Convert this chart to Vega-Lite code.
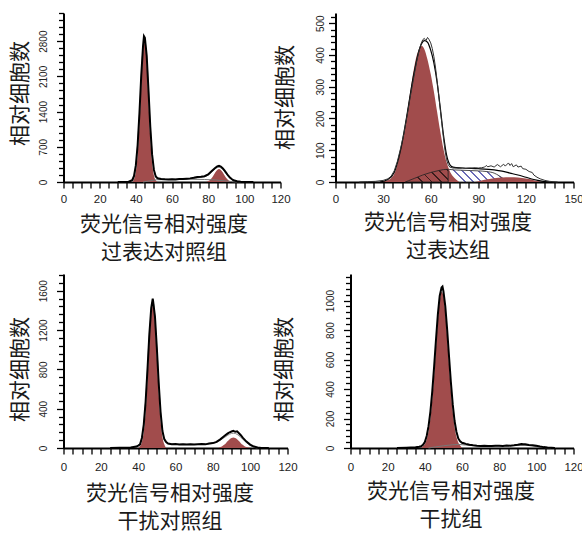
{
  "$schema": "https://vega.github.io/schema/vega-lite/v6.json",
  "padding": {"left": 9.5, "top": 12, "right": 0, "bottom": 8},
  "background": "white",
  "config": {
    "view": {"stroke": null},
    "axis": {
      "grid": false,
      "domainColor": "#000",
      "domainWidth": 2,
      "tickColor": "#000",
      "tickWidth": 1.3,
      "tickSize": 5,
      "labelFont": "Liberation Sans",
      "labelColor": "#222",
      "labelOverlap": false,
      "labelFlush": false,
      "format": "d",
      "titleFont": "Noto Sans CJK SC",
      "titleFontSize": 21,
      "titleFontWeight": "normal",
      "titleColor": "#1a1a1a"
    },
    "axisY": {"labelAngle": -90, "labelAlign": "center", "labelBaseline": "middle", "labelFontSize": 10, "titleAngle": 270, "titleBaseline": "middle", "titleAlign": "center"},
    "axisX": {"labelFontSize": 11.5, "tickSize": 6, "titleBaseline": "top", "titleAlign": "center"}
  },
  "datasets": {
    "p1": [
      {"s": "G1", "x": 38, "y": 0}, {"s": "G1", "x": 39, "y": 61}, {"s": "G1", "x": 40, "y": 204}, {"s": "G1", "x": 41, "y": 541}, {"s": "G1", "x": 42, "y": 1143}, {"s": "G1", "x": 43, "y": 1926}, {"s": "G1", "x": 44, "y": 2585}, {"s": "G1", "x": 45, "y": 2767}, {"s": "G1", "x": 46, "y": 2361}, {"s": "G1", "x": 47, "y": 1606}, {"s": "G1", "x": 48, "y": 870}, {"s": "G1", "x": 49, "y": 376}, {"s": "G1", "x": 50, "y": 130}, {"s": "G1", "x": 51, "y": 36}, {"s": "G1", "x": 52, "y": 0},
      {"s": "G2", "x": 79, "y": 0}, {"s": "G2", "x": 80, "y": 18}, {"s": "G2", "x": 81, "y": 41}, {"s": "G2", "x": 82, "y": 80}, {"s": "G2", "x": 83, "y": 133}, {"s": "G2", "x": 84, "y": 193}, {"s": "G2", "x": 85, "y": 241}, {"s": "G2", "x": 86, "y": 260}, {"s": "G2", "x": 87, "y": 241}, {"s": "G2", "x": 88, "y": 193}, {"s": "G2", "x": 89, "y": 133}, {"s": "G2", "x": 90, "y": 80}, {"s": "G2", "x": 91, "y": 41}, {"s": "G2", "x": 92, "y": 18}, {"s": "G2", "x": 93, "y": 7}, {"s": "G2", "x": 94, "y": 0},
      {"s": "S", "x": 44, "y": 0}, {"s": "S", "x": 48, "y": 25}, {"s": "S", "x": 52, "y": 45}, {"s": "S", "x": 60, "y": 50}, {"s": "S", "x": 70, "y": 55}, {"s": "S", "x": 78, "y": 50}, {"s": "S", "x": 84, "y": 40}, {"s": "S", "x": 90, "y": 20}, {"s": "S", "x": 94, "y": 5}, {"s": "S", "x": 96, "y": 0},
      {"s": "fit", "x": 38, "y": 0}, {"s": "fit", "x": 40, "y": 300}, {"s": "fit", "x": 42, "y": 1330}, {"s": "fit", "x": 44, "y": 2650}, {"s": "fit", "x": 45, "y": 2800}, {"s": "fit", "x": 46, "y": 2480}, {"s": "fit", "x": 48, "y": 1080}, {"s": "fit", "x": 50, "y": 250}, {"s": "fit", "x": 52, "y": 85}, {"s": "fit", "x": 54, "y": 62}, {"s": "fit", "x": 58, "y": 55}, {"s": "fit", "x": 64, "y": 58}, {"s": "fit", "x": 70, "y": 68}, {"s": "fit", "x": 76, "y": 92}, {"s": "fit", "x": 80, "y": 135}, {"s": "fit", "x": 82, "y": 200}, {"s": "fit", "x": 84, "y": 268}, {"s": "fit", "x": 86, "y": 292}, {"s": "fit", "x": 88, "y": 250}, {"s": "fit", "x": 90, "y": 165}, {"s": "fit", "x": 92, "y": 80}, {"s": "fit", "x": 94, "y": 30}, {"s": "fit", "x": 96, "y": 8}, {"s": "fit", "x": 98, "y": 0},
      {"s": "out", "x": 30, "y": 0}, {"s": "out", "x": 36, "y": 5}, {"s": "out", "x": 38, "y": 37}, {"s": "out", "x": 39, "y": 120}, {"s": "out", "x": 40, "y": 330}, {"s": "out", "x": 41, "y": 735}, {"s": "out", "x": 42, "y": 1373}, {"s": "out", "x": 43, "y": 2120}, {"s": "out", "x": 44, "y": 2711}, {"s": "out", "x": 44.5, "y": 2900}, {"s": "out", "x": 45, "y": 2869}, {"s": "out", "x": 46, "y": 2514}, {"s": "out", "x": 47, "y": 1823}, {"s": "out", "x": 48, "y": 1094}, {"s": "out", "x": 49, "y": 544}, {"s": "out", "x": 50, "y": 240}, {"s": "out", "x": 51, "y": 110}, {"s": "out", "x": 52, "y": 75}, {"s": "out", "x": 54, "y": 60}, {"s": "out", "x": 56, "y": 55}, {"s": "out", "x": 58, "y": 52}, {"s": "out", "x": 60, "y": 55}, {"s": "out", "x": 62, "y": 52}, {"s": "out", "x": 64, "y": 58}, {"s": "out", "x": 66, "y": 60}, {"s": "out", "x": 68, "y": 66}, {"s": "out", "x": 70, "y": 72}, {"s": "out", "x": 72, "y": 85}, {"s": "out", "x": 74, "y": 100}, {"s": "out", "x": 76, "y": 105}, {"s": "out", "x": 78, "y": 115}, {"s": "out", "x": 80, "y": 150}, {"s": "out", "x": 82, "y": 220}, {"s": "out", "x": 84, "y": 285}, {"s": "out", "x": 85, "y": 310}, {"s": "out", "x": 86, "y": 320}, {"s": "out", "x": 87, "y": 308}, {"s": "out", "x": 88, "y": 275}, {"s": "out", "x": 89, "y": 230}, {"s": "out", "x": 90, "y": 180}, {"s": "out", "x": 91, "y": 130}, {"s": "out", "x": 92, "y": 90}, {"s": "out", "x": 93, "y": 60}, {"s": "out", "x": 94, "y": 35}, {"s": "out", "x": 96, "y": 15}, {"s": "out", "x": 98, "y": 5}, {"s": "out", "x": 100, "y": 0}, {"s": "out", "x": 105, "y": 0}
    ],
    "p2": [
      {"s": "G1", "x": 28, "y": 0}, {"s": "G1", "x": 32, "y": 4}, {"s": "G1", "x": 35, "y": 12}, {"s": "G1", "x": 37, "y": 25}, {"s": "G1", "x": 39, "y": 55}, {"s": "G1", "x": 41, "y": 100}, {"s": "G1", "x": 43, "y": 150}, {"s": "G1", "x": 45, "y": 215}, {"s": "G1", "x": 47, "y": 280}, {"s": "G1", "x": 49, "y": 345}, {"s": "G1", "x": 51, "y": 395}, {"s": "G1", "x": 53, "y": 422}, {"s": "G1", "x": 54.5, "y": 428}, {"s": "G1", "x": 56, "y": 418}, {"s": "G1", "x": 58, "y": 385}, {"s": "G1", "x": 60, "y": 340}, {"s": "G1", "x": 62, "y": 285}, {"s": "G1", "x": 64, "y": 222}, {"s": "G1", "x": 66, "y": 160}, {"s": "G1", "x": 68, "y": 105}, {"s": "G1", "x": 70, "y": 62}, {"s": "G1", "x": 72, "y": 35}, {"s": "G1", "x": 74, "y": 18}, {"s": "G1", "x": 76, "y": 8}, {"s": "G1", "x": 78, "y": 0},
      {"s": "SL", "x": 44, "y": 0}, {"s": "SL", "x": 46, "y": 4}, {"s": "SL", "x": 50, "y": 12}, {"s": "SL", "x": 55, "y": 22}, {"s": "SL", "x": 60, "y": 30}, {"s": "SL", "x": 65, "y": 36}, {"s": "SL", "x": 68, "y": 39}, {"s": "SL", "x": 71, "y": 40},
      {"s": "SR", "x": 71, "y": 40}, {"s": "SR", "x": 75, "y": 38}, {"s": "SR", "x": 80, "y": 37}, {"s": "SR", "x": 85, "y": 36}, {"s": "SR", "x": 90, "y": 35}, {"s": "SR", "x": 95, "y": 33}, {"s": "SR", "x": 100, "y": 28}, {"s": "SR", "x": 103, "y": 20}, {"s": "SR", "x": 106, "y": 10}, {"s": "SR", "x": 108, "y": 3}, {"s": "SR", "x": 110, "y": 0},
      {"s": "G2", "x": 88, "y": 0}, {"s": "G2", "x": 92, "y": 5}, {"s": "G2", "x": 96, "y": 9}, {"s": "G2", "x": 100, "y": 12}, {"s": "G2", "x": 105, "y": 14}, {"s": "G2", "x": 110, "y": 15}, {"s": "G2", "x": 115, "y": 14}, {"s": "G2", "x": 120, "y": 11}, {"s": "G2", "x": 124, "y": 7}, {"s": "G2", "x": 127, "y": 3}, {"s": "G2", "x": 130, "y": 0},
      {"s": "fit", "x": 28, "y": 0}, {"s": "fit", "x": 33, "y": 8}, {"s": "fit", "x": 37, "y": 30}, {"s": "fit", "x": 41, "y": 100}, {"s": "fit", "x": 45, "y": 210}, {"s": "fit", "x": 49, "y": 330}, {"s": "fit", "x": 53, "y": 420}, {"s": "fit", "x": 56, "y": 445}, {"s": "fit", "x": 58, "y": 440}, {"s": "fit", "x": 60, "y": 415}, {"s": "fit", "x": 62, "y": 375}, {"s": "fit", "x": 64, "y": 315}, {"s": "fit", "x": 66, "y": 235}, {"s": "fit", "x": 68, "y": 150}, {"s": "fit", "x": 70, "y": 85}, {"s": "fit", "x": 72, "y": 55}, {"s": "fit", "x": 74, "y": 47}, {"s": "fit", "x": 80, "y": 44}, {"s": "fit", "x": 90, "y": 42}, {"s": "fit", "x": 100, "y": 38}, {"s": "fit", "x": 105, "y": 34}, {"s": "fit", "x": 110, "y": 28}, {"s": "fit", "x": 115, "y": 22}, {"s": "fit", "x": 120, "y": 15}, {"s": "fit", "x": 125, "y": 8}, {"s": "fit", "x": 130, "y": 3}, {"s": "fit", "x": 135, "y": 0},
      {"s": "out", "x": 15, "y": 0}, {"s": "out", "x": 20, "y": 1}, {"s": "out", "x": 25, "y": 2}, {"s": "out", "x": 30, "y": 5}, {"s": "out", "x": 33, "y": 10}, {"s": "out", "x": 35, "y": 18}, {"s": "out", "x": 37, "y": 35}, {"s": "out", "x": 39, "y": 65}, {"s": "out", "x": 41, "y": 105}, {"s": "out", "x": 43, "y": 150}, {"s": "out", "x": 44, "y": 178}, {"s": "out", "x": 45, "y": 205}, {"s": "out", "x": 47, "y": 265}, {"s": "out", "x": 49, "y": 320}, {"s": "out", "x": 51, "y": 375}, {"s": "out", "x": 52, "y": 398}, {"s": "out", "x": 53, "y": 420}, {"s": "out", "x": 54, "y": 436}, {"s": "out", "x": 55, "y": 448}, {"s": "out", "x": 56, "y": 452}, {"s": "out", "x": 57, "y": 445}, {"s": "out", "x": 58, "y": 455}, {"s": "out", "x": 59, "y": 448}, {"s": "out", "x": 60, "y": 438}, {"s": "out", "x": 61, "y": 420}, {"s": "out", "x": 62, "y": 395}, {"s": "out", "x": 63, "y": 362}, {"s": "out", "x": 64, "y": 320}, {"s": "out", "x": 65, "y": 275}, {"s": "out", "x": 66, "y": 230}, {"s": "out", "x": 67, "y": 185}, {"s": "out", "x": 68, "y": 140}, {"s": "out", "x": 69, "y": 100}, {"s": "out", "x": 70, "y": 70}, {"s": "out", "x": 71, "y": 55}, {"s": "out", "x": 72, "y": 47}, {"s": "out", "x": 74, "y": 44}, {"s": "out", "x": 76, "y": 44}, {"s": "out", "x": 78, "y": 43}, {"s": "out", "x": 80, "y": 44}, {"s": "out", "x": 82, "y": 43}, {"s": "out", "x": 84, "y": 44}, {"s": "out", "x": 86, "y": 44}, {"s": "out", "x": 88, "y": 45}, {"s": "out", "x": 90, "y": 44}, {"s": "out", "x": 92, "y": 45}, {"s": "out", "x": 94, "y": 47}, {"s": "out", "x": 95, "y": 52}, {"s": "out", "x": 96, "y": 48}, {"s": "out", "x": 98, "y": 51}, {"s": "out", "x": 100, "y": 47}, {"s": "out", "x": 102, "y": 55}, {"s": "out", "x": 104, "y": 48}, {"s": "out", "x": 106, "y": 56}, {"s": "out", "x": 107, "y": 50}, {"s": "out", "x": 109, "y": 60}, {"s": "out", "x": 110, "y": 52}, {"s": "out", "x": 111, "y": 58}, {"s": "out", "x": 112, "y": 48}, {"s": "out", "x": 114, "y": 54}, {"s": "out", "x": 115, "y": 47}, {"s": "out", "x": 117, "y": 50}, {"s": "out", "x": 118, "y": 42}, {"s": "out", "x": 120, "y": 40}, {"s": "out", "x": 122, "y": 33}, {"s": "out", "x": 124, "y": 30}, {"s": "out", "x": 125, "y": 22}, {"s": "out", "x": 127, "y": 15}, {"s": "out", "x": 129, "y": 10}, {"s": "out", "x": 132, "y": 5}, {"s": "out", "x": 135, "y": 2}, {"s": "out", "x": 140, "y": 0}
    ],
    "p3": [
      {"s": "G1", "x": 40, "y": 0}, {"s": "G1", "x": 41, "y": 18}, {"s": "G1", "x": 42, "y": 61}, {"s": "G1", "x": 43, "y": 165}, {"s": "G1", "x": 44, "y": 373}, {"s": "G1", "x": 45, "y": 696}, {"s": "G1", "x": 46, "y": 1075}, {"s": "G1", "x": 47, "y": 1374}, {"s": "G1", "x": 48, "y": 1454}, {"s": "G1", "x": 49, "y": 1274}, {"s": "G1", "x": 50, "y": 924}, {"s": "G1", "x": 51, "y": 555}, {"s": "G1", "x": 52, "y": 276}, {"s": "G1", "x": 53, "y": 113}, {"s": "G1", "x": 54, "y": 39}, {"s": "G1", "x": 55, "y": 0},
      {"s": "G2", "x": 83, "y": 0}, {"s": "G2", "x": 84, "y": 10}, {"s": "G2", "x": 85, "y": 19}, {"s": "G2", "x": 86, "y": 32}, {"s": "G2", "x": 87, "y": 49}, {"s": "G2", "x": 88, "y": 70}, {"s": "G2", "x": 89, "y": 89}, {"s": "G2", "x": 90, "y": 103}, {"s": "G2", "x": 91, "y": 108}, {"s": "G2", "x": 92, "y": 103}, {"s": "G2", "x": 93, "y": 89}, {"s": "G2", "x": 94, "y": 70}, {"s": "G2", "x": 95, "y": 49}, {"s": "G2", "x": 96, "y": 32}, {"s": "G2", "x": 97, "y": 19}, {"s": "G2", "x": 98, "y": 10}, {"s": "G2", "x": 99, "y": 5}, {"s": "G2", "x": 100, "y": 0},
      {"s": "fit", "x": 40, "y": 0}, {"s": "fit", "x": 42, "y": 100}, {"s": "fit", "x": 44, "y": 470}, {"s": "fit", "x": 46, "y": 1150}, {"s": "fit", "x": 48, "y": 1480}, {"s": "fit", "x": 50, "y": 1010}, {"s": "fit", "x": 52, "y": 360}, {"s": "fit", "x": 54, "y": 85}, {"s": "fit", "x": 56, "y": 45}, {"s": "fit", "x": 60, "y": 38}, {"s": "fit", "x": 70, "y": 37}, {"s": "fit", "x": 78, "y": 42}, {"s": "fit", "x": 82, "y": 58}, {"s": "fit", "x": 84, "y": 80}, {"s": "fit", "x": 86, "y": 105}, {"s": "fit", "x": 88, "y": 130}, {"s": "fit", "x": 90, "y": 148}, {"s": "fit", "x": 91, "y": 150}, {"s": "fit", "x": 92, "y": 148}, {"s": "fit", "x": 94, "y": 125}, {"s": "fit", "x": 96, "y": 90}, {"s": "fit", "x": 98, "y": 55}, {"s": "fit", "x": 100, "y": 25}, {"s": "fit", "x": 102, "y": 8}, {"s": "fit", "x": 104, "y": 0},
      {"s": "out", "x": 25, "y": 0}, {"s": "out", "x": 30, "y": 2}, {"s": "out", "x": 36, "y": 5}, {"s": "out", "x": 39, "y": 15}, {"s": "out", "x": 40, "y": 25}, {"s": "out", "x": 41, "y": 37}, {"s": "out", "x": 42, "y": 102}, {"s": "out", "x": 43, "y": 238}, {"s": "out", "x": 44, "y": 473}, {"s": "out", "x": 45, "y": 801}, {"s": "out", "x": 46, "y": 1158}, {"s": "out", "x": 47, "y": 1425}, {"s": "out", "x": 47.8, "y": 1520}, {"s": "out", "x": 48, "y": 1495}, {"s": "out", "x": 49, "y": 1337}, {"s": "out", "x": 50, "y": 1018}, {"s": "out", "x": 51, "y": 661}, {"s": "out", "x": 52, "y": 366}, {"s": "out", "x": 53, "y": 173}, {"s": "out", "x": 54, "y": 90}, {"s": "out", "x": 55, "y": 60}, {"s": "out", "x": 56, "y": 45}, {"s": "out", "x": 58, "y": 38}, {"s": "out", "x": 60, "y": 40}, {"s": "out", "x": 62, "y": 36}, {"s": "out", "x": 64, "y": 38}, {"s": "out", "x": 66, "y": 35}, {"s": "out", "x": 68, "y": 37}, {"s": "out", "x": 70, "y": 36}, {"s": "out", "x": 72, "y": 38}, {"s": "out", "x": 74, "y": 40}, {"s": "out", "x": 76, "y": 37}, {"s": "out", "x": 78, "y": 45}, {"s": "out", "x": 80, "y": 50}, {"s": "out", "x": 82, "y": 62}, {"s": "out", "x": 84, "y": 88}, {"s": "out", "x": 86, "y": 120}, {"s": "out", "x": 88, "y": 148}, {"s": "out", "x": 89, "y": 160}, {"s": "out", "x": 90, "y": 168}, {"s": "out", "x": 91, "y": 175}, {"s": "out", "x": 92, "y": 165}, {"s": "out", "x": 93, "y": 170}, {"s": "out", "x": 94, "y": 150}, {"s": "out", "x": 95, "y": 130}, {"s": "out", "x": 96, "y": 105}, {"s": "out", "x": 97, "y": 85}, {"s": "out", "x": 98, "y": 65}, {"s": "out", "x": 100, "y": 35}, {"s": "out", "x": 102, "y": 15}, {"s": "out", "x": 104, "y": 6}, {"s": "out", "x": 106, "y": 0}, {"s": "out", "x": 110, "y": 0}
    ],
    "p4": [
      {"s": "G1", "x": 38, "y": 0}, {"s": "G1", "x": 39, "y": 12}, {"s": "G1", "x": 40, "y": 27}, {"s": "G1", "x": 41, "y": 58}, {"s": "G1", "x": 42, "y": 113}, {"s": "G1", "x": 43, "y": 201}, {"s": "G1", "x": 44, "y": 329}, {"s": "G1", "x": 45, "y": 494}, {"s": "G1", "x": 46, "y": 681}, {"s": "G1", "x": 47, "y": 860}, {"s": "G1", "x": 48, "y": 996}, {"s": "G1", "x": 49, "y": 1060}, {"s": "G1", "x": 50, "y": 1031}, {"s": "G1", "x": 51, "y": 921}, {"s": "G1", "x": 52, "y": 755}, {"s": "G1", "x": 53, "y": 568}, {"s": "G1", "x": 54, "y": 391}, {"s": "G1", "x": 55, "y": 247}, {"s": "G1", "x": 56, "y": 143}, {"s": "G1", "x": 57, "y": 76}, {"s": "G1", "x": 58, "y": 37}, {"s": "G1", "x": 59, "y": 17}, {"s": "G1", "x": 60, "y": 0},
      {"s": "S", "x": 42, "y": 0}, {"s": "S", "x": 46, "y": 8}, {"s": "S", "x": 50, "y": 15}, {"s": "S", "x": 55, "y": 22}, {"s": "S", "x": 58, "y": 24}, {"s": "S", "x": 62, "y": 20}, {"s": "S", "x": 70, "y": 14}, {"s": "S", "x": 80, "y": 14}, {"s": "S", "x": 90, "y": 18}, {"s": "S", "x": 95, "y": 18}, {"s": "S", "x": 100, "y": 10}, {"s": "S", "x": 105, "y": 2}, {"s": "S", "x": 108, "y": 0},
      {"s": "out", "x": 25, "y": 0}, {"s": "out", "x": 30, "y": 2}, {"s": "out", "x": 35, "y": 5}, {"s": "out", "x": 37, "y": 8}, {"s": "out", "x": 38, "y": 12}, {"s": "out", "x": 39, "y": 22}, {"s": "out", "x": 40, "y": 41}, {"s": "out", "x": 41, "y": 81}, {"s": "out", "x": 42, "y": 148}, {"s": "out", "x": 43, "y": 247}, {"s": "out", "x": 44, "y": 384}, {"s": "out", "x": 45, "y": 552}, {"s": "out", "x": 46, "y": 734}, {"s": "out", "x": 47, "y": 904}, {"s": "out", "x": 48, "y": 1031}, {"s": "out", "x": 49, "y": 1088}, {"s": "out", "x": 49.5, "y": 1095}, {"s": "out", "x": 50, "y": 1063}, {"s": "out", "x": 51, "y": 962}, {"s": "out", "x": 52, "y": 805}, {"s": "out", "x": 53, "y": 624}, {"s": "out", "x": 54, "y": 448}, {"s": "out", "x": 55, "y": 297}, {"s": "out", "x": 56, "y": 183}, {"s": "out", "x": 57, "y": 110}, {"s": "out", "x": 58, "y": 65}, {"s": "out", "x": 59, "y": 45}, {"s": "out", "x": 60, "y": 35}, {"s": "out", "x": 61, "y": 32}, {"s": "out", "x": 62, "y": 28}, {"s": "out", "x": 63, "y": 25}, {"s": "out", "x": 64, "y": 22}, {"s": "out", "x": 66, "y": 18}, {"s": "out", "x": 68, "y": 15}, {"s": "out", "x": 70, "y": 14}, {"s": "out", "x": 72, "y": 16}, {"s": "out", "x": 74, "y": 14}, {"s": "out", "x": 76, "y": 13}, {"s": "out", "x": 78, "y": 15}, {"s": "out", "x": 80, "y": 16}, {"s": "out", "x": 82, "y": 14}, {"s": "out", "x": 84, "y": 17}, {"s": "out", "x": 86, "y": 16}, {"s": "out", "x": 88, "y": 18}, {"s": "out", "x": 90, "y": 22}, {"s": "out", "x": 92, "y": 27}, {"s": "out", "x": 93, "y": 25}, {"s": "out", "x": 94, "y": 26}, {"s": "out", "x": 96, "y": 20}, {"s": "out", "x": 98, "y": 18}, {"s": "out", "x": 100, "y": 15}, {"s": "out", "x": 102, "y": 10}, {"s": "out", "x": 104, "y": 6}, {"s": "out", "x": 106, "y": 3}, {"s": "out", "x": 110, "y": 0}
    ]
  },
  "vconcat": [
    {
      "bounds": "flush",
      "spacing": 55,
      "hconcat": [
        {
          "width": 217, "height": 169,
          "data": {"name": "p1"},
          "encoding": {
            "x": {"field": "x", "type": "quantitative", "scale": {"domain": [0, 120], "nice": false},
              "axis": {"values": [0,5,10,15,20,25,30,35,40,45,50,55,60,65,70,75,80,85,90,95,100,105,110,115,120],
                "labelExpr": "datum.value % 20 === 0 ? datum.label : ''", "labelPadding": 5,
                "title": ["荧光信号相对强度", "过表达对照组"], "titleX": 100, "titleY": 31, "titleLineHeight": 28}},
            "y": {"field": "y", "type": "quantitative", "scale": {"domain": [0, 3360], "nice": false},
              "axis": {"values": [0,140,280,420,560,700,840,980,1120,1260,1400,1540,1680,1820,1960,2100,2240,2380,2520,2660,2800,2940,3080,3220,3360],
                "labelExpr": "datum.value % 700 === 0 ? datum.label : ''", "labelPadding": 13,
                "tickSize": {"condition": {"test": "datum.value % 700 === 0", "value": 7}, "value": 5},
                "title": "相对细胞数", "titleX": -43, "titleY": 80}}
          },
          "layer": [
            {"transform": [{"filter": "datum.s === 'G1'"}], "mark": {"type": "area", "interpolate": "monotone", "color": "#a14c4c"}},
            {"transform": [{"filter": "datum.s === 'G2'"}], "mark": {"type": "area", "interpolate": "monotone", "color": "#a14c4c"}},
            {"transform": [{"filter": "datum.s === 'S'"}], "mark": {"type": "line", "interpolate": "monotone", "color": "#777", "strokeWidth": 1}},
            {"transform": [{"filter": "datum.s === 'fit'"}], "mark": {"type": "line", "interpolate": "monotone", "color": "#888", "strokeWidth": 1}},
            {"transform": [{"filter": "datum.s === 'out'"}], "mark": {"type": "line", "interpolate": "linear", "color": "#000", "strokeWidth": 2}}
          ]
        },
        {
          "width": 238, "height": 169,
          "data": {"name": "p2"},
          "encoding": {
            "x": {"field": "x", "type": "quantitative", "scale": {"domain": [0, 150], "nice": false},
              "axis": {"values": [0,6,12,18,24,30,36,42,48,54,60,66,72,78,84,90,96,102,108,114,120,126,132,138,144,150],
                "labelExpr": "datum.value % 30 === 0 ? datum.label : ''", "labelPadding": 5,
                "title": ["荧光信号相对强度", "过表达组"], "titleX": 112, "titleY": 29, "titleLineHeight": 28}},
            "y": {"field": "y", "type": "quantitative", "scale": {"domain": [0, 532], "nice": false},
              "axis": {"values": [0,20,40,60,80,100,120,140,160,180,200,220,240,260,280,300,320,340,360,380,400,420,440,460,480,500,520],
                "labelExpr": "datum.value % 100 === 0 ? datum.label : ''", "labelPadding": 8,
                "tickSize": {"condition": {"test": "datum.value % 100 === 0", "value": 7}, "value": 5},
                "title": "相对细胞数", "titleX": -50.5, "titleY": 84}}
          },
          "layer": [
            {"transform": [{"filter": "datum.s === 'SR'"}], "mark": {"type": "area", "interpolate": "monotone", "stroke": "#222", "strokeWidth": 0.8,
              "fill": {"gradient": "linear", "x1": 0, "y1": 0.205, "x2": 1, "y2": 0, "stops": [
                {"offset": 0, "color": "#ffffff"}, {"offset": 0.095, "color": "#ffffff"}, {"offset": 0.095, "color": "#6b6bb8"}, {"offset": 0.125, "color": "#6b6bb8"},
                {"offset": 0.125, "color": "#ffffff"}, {"offset": 0.22, "color": "#ffffff"}, {"offset": 0.22, "color": "#6b6bb8"}, {"offset": 0.25, "color": "#6b6bb8"},
                {"offset": 0.25, "color": "#ffffff"}, {"offset": 0.345, "color": "#ffffff"}, {"offset": 0.345, "color": "#6b6bb8"}, {"offset": 0.375, "color": "#6b6bb8"},
                {"offset": 0.375, "color": "#ffffff"}, {"offset": 0.47, "color": "#ffffff"}, {"offset": 0.47, "color": "#6b6bb8"}, {"offset": 0.5, "color": "#6b6bb8"},
                {"offset": 0.5, "color": "#ffffff"}, {"offset": 0.595, "color": "#ffffff"}, {"offset": 0.595, "color": "#6b6bb8"}, {"offset": 0.625, "color": "#6b6bb8"},
                {"offset": 0.625, "color": "#ffffff"}, {"offset": 0.72, "color": "#ffffff"}, {"offset": 0.72, "color": "#6b6bb8"}, {"offset": 0.75, "color": "#6b6bb8"},
                {"offset": 0.75, "color": "#ffffff"}, {"offset": 0.845, "color": "#ffffff"}, {"offset": 0.845, "color": "#6b6bb8"}, {"offset": 0.875, "color": "#6b6bb8"},
                {"offset": 0.875, "color": "#ffffff"}, {"offset": 0.97, "color": "#ffffff"}, {"offset": 0.97, "color": "#6b6bb8"}, {"offset": 1, "color": "#6b6bb8"}]}}},
            {"transform": [{"filter": "datum.s === 'G1'"}], "mark": {"type": "area", "interpolate": "monotone", "color": "#a14c4c"}},
            {"transform": [{"filter": "datum.s === 'SL'"}], "mark": {"type": "area", "interpolate": "monotone", "stroke": "#222", "strokeWidth": 0.8,
              "fill": {"gradient": "linear", "x1": 0, "y1": 0.297, "x2": 1, "y2": 0, "stops": [
                {"offset": 0, "color": "#a14c4c"}, {"offset": 0.16, "color": "#a14c4c"}, {"offset": 0.16, "color": "#3c1c1c"}, {"offset": 0.2, "color": "#3c1c1c"},
                {"offset": 0.2, "color": "#a14c4c"}, {"offset": 0.36, "color": "#a14c4c"}, {"offset": 0.36, "color": "#3c1c1c"}, {"offset": 0.4, "color": "#3c1c1c"},
                {"offset": 0.4, "color": "#a14c4c"}, {"offset": 0.56, "color": "#a14c4c"}, {"offset": 0.56, "color": "#3c1c1c"}, {"offset": 0.6, "color": "#3c1c1c"},
                {"offset": 0.6, "color": "#a14c4c"}, {"offset": 0.76, "color": "#a14c4c"}, {"offset": 0.76, "color": "#3c1c1c"}, {"offset": 0.8, "color": "#3c1c1c"},
                {"offset": 0.8, "color": "#a14c4c"}, {"offset": 0.96, "color": "#a14c4c"}, {"offset": 0.96, "color": "#3c1c1c"}, {"offset": 1, "color": "#3c1c1c"}]}}},
            {"transform": [{"filter": "datum.s === 'G2'"}], "mark": {"type": "area", "interpolate": "monotone", "color": "#a14c4c"}},
            {"transform": [{"filter": "datum.s === 'fit'"}], "mark": {"type": "line", "interpolate": "monotone", "color": "#000", "strokeWidth": 1.2}},
            {"transform": [{"filter": "datum.s === 'out'"}], "mark": {"type": "line", "interpolate": "linear", "color": "#333", "strokeWidth": 1}}
          ]
        }
      ]
    },
    {
      "bounds": "flush",
      "spacing": 63,
      "hconcat": [
        {
          "width": 224, "height": 174,
          "data": {"name": "p3"},
          "encoding": {
            "x": {"field": "x", "type": "quantitative", "scale": {"domain": [0, 120], "nice": false},
              "axis": {"values": [0,5,10,15,20,25,30,35,40,45,50,55,60,65,70,75,80,85,90,95,100,105,110,115,120],
                "labelExpr": "datum.value % 20 === 0 ? datum.label : ''", "labelPadding": 7,
                "title": ["荧光信号相对强度", "干扰对照组"], "titleX": 106, "titleY": 34, "titleLineHeight": 28}},
            "y": {"field": "y", "type": "quantitative", "scale": {"domain": [0, 1770], "nice": false},
              "axis": {"values": [0,80,160,240,320,400,480,560,640,720,800,880,960,1040,1120,1200,1280,1360,1440,1520,1600,1680,1760],
                "labelExpr": "datum.value % 400 === 0 ? datum.label : ''", "labelPadding": 13,
                "tickSize": {"condition": {"test": "datum.value % 400 === 0", "value": 7}, "value": 5},
                "title": "相对细胞数", "titleX": -43, "titleY": 95}}
          },
          "layer": [
            {"transform": [{"filter": "datum.s === 'G1'"}], "mark": {"type": "area", "interpolate": "monotone", "color": "#a14c4c"}},
            {"transform": [{"filter": "datum.s === 'G2'"}], "mark": {"type": "area", "interpolate": "monotone", "color": "#a14c4c"}},
            {"transform": [{"filter": "datum.s === 'fit'"}], "mark": {"type": "line", "interpolate": "monotone", "color": "#888", "strokeWidth": 1}},
            {"transform": [{"filter": "datum.s === 'out'"}], "mark": {"type": "line", "interpolate": "linear", "color": "#000", "strokeWidth": 2}}
          ]
        },
        {
          "width": 223, "height": 174,
          "data": {"name": "p4"},
          "encoding": {
            "x": {"field": "x", "type": "quantitative", "scale": {"domain": [0, 120], "nice": false},
              "axis": {"values": [0,5,10,15,20,25,30,35,40,45,50,55,60,65,70,75,80,85,90,95,100,105,110,115,120],
                "labelExpr": "datum.value % 20 === 0 ? datum.label : ''", "labelPadding": 7,
                "title": ["荧光信号相对强度", "干扰组"], "titleX": 100, "titleY": 32, "titleLineHeight": 28}},
            "y": {"field": "y", "type": "quantitative", "scale": {"domain": [0, 1180], "nice": false},
              "axis": {"values": [0,40,80,120,160,200,240,280,320,360,400,440,480,520,560,600,640,680,720,760,800,840,880,920,960,1000,1040,1080,1120,1160],
                "labelExpr": "datum.value % 200 === 0 ? datum.label : ''", "labelPadding": 13,
                "tickSize": {"condition": {"test": "datum.value % 200 === 0", "value": 7}, "value": 5},
                "title": "相对细胞数", "titleX": -66.5, "titleY": 95}}
          },
          "layer": [
            {"transform": [{"filter": "datum.s === 'G1'"}], "mark": {"type": "area", "interpolate": "monotone", "color": "#a14c4c"}},
            {"transform": [{"filter": "datum.s === 'S'"}], "mark": {"type": "line", "interpolate": "monotone", "color": "#777", "strokeWidth": 1}},
            {"transform": [{"filter": "datum.s === 'out'"}], "mark": {"type": "line", "interpolate": "linear", "color": "#000", "strokeWidth": 2}}
          ]
        }
      ]
    }
  ],
  "spacing": 12,
  "bounds": "full"
}
